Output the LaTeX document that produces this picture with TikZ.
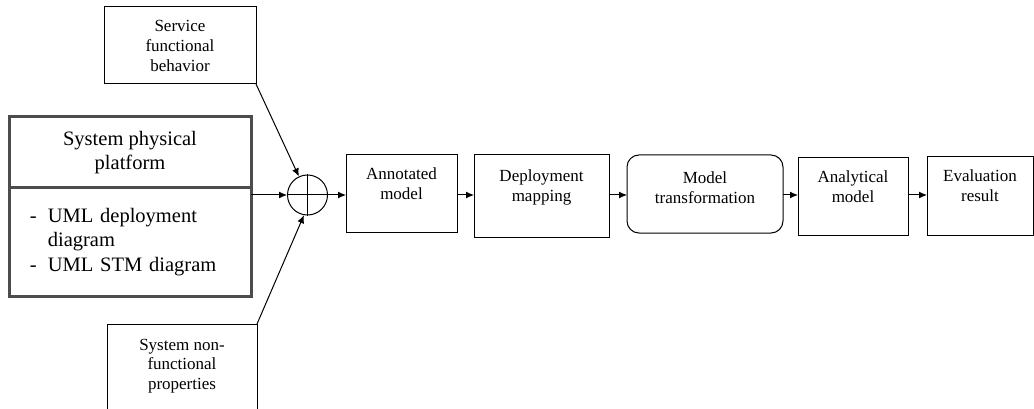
\documentclass[tikz,border=0pt]{standalone}
\usepackage{fontspec}
\setmainfont{Liberation Serif}
\usetikzlibrary{arrows.meta,positioning}

\tikzset{
  blk/.style={draw, line width=1pt, align=center, inner sep=0pt, outer sep=0pt, font=\fontsize{17}{20}\selectfont},
  platbox/.style={draw=black!70, line width=3pt, minimum width=242, inner sep=0pt, outer sep=0pt},
  arr/.style={-{Latex[length=8pt,width=7pt]}, line width=1pt},
}

\begin{document}
\begin{tikzpicture}[x=1pt, y=-1pt]
\useasboundingbox (0,0) rectangle (1034,409);
% inputs
\node[blk, minimum width=152, minimum height=77] (svc) at (180,45.5) {Service\\functional\\behavior};
\node[platbox, minimum height=71.5, align=center, font=\fontsize{20.5}{24}\selectfont] (platTop) at (130,152.25) {System physical\\platform};
\node[platbox, minimum height=108, text width=200, inner xsep=21, align=left, font=\fontsize{20.5}{24.5}\selectfont, below=0pt of platTop] (platBot)
  {\begin{tabular}{@{}l@{\hspace{11pt}}l@{}}-&UML deployment\\&diagram\\-&UML STM diagram\end{tabular}};
\node[blk, minimum width=150, minimum height=120, anchor=north] (nfp) at (182,324) {};
\node[align=center, inner sep=0pt, font=\fontsize{17}{19.5}\selectfont, below=15pt of nfp.north] (nfpText) {System non-\\functional\\properties};
% summing junction
\node[draw, circle, line width=1pt, minimum size=40, inner sep=0pt] (sum) at (307.5,195) {};
\draw[line width=1pt] (sum.north) -- (sum.south) (sum.west) -- (sum.east);
% chain
\node[blk, minimum width=111, minimum height=77] (ann) at (401.5,193.5) {Annotated\\model\\~};
\node[blk, minimum width=135, minimum height=82] (dep) at (541.5,196) {Deployment\\mapping\\~};
\node[blk, minimum width=156, minimum height=78, rounded corners=12pt] (trf) at (705,194) {Model\\transformation\\[-8pt]~};
\node[blk, minimum width=110, minimum height=77] (ana) at (853,196.5) {Analytical\\model\\~};
\node[blk, minimum width=106, minimum height=78] (eva) at (980,196) {Evaluation\\result\\~};
% connectors
\draw[arr] (sum -| platBot.east) -- (sum);
\draw[arr] (svc.south east) -- (sum);
\draw[arr] (nfp.north east) -- (sum.-100);
\draw[arr] (sum) -- (sum -| ann.west);
\draw[arr] (ann.east |- sum) -- (dep.west |- sum);
\draw[arr] (dep.east |- sum) -- (trf.west |- sum);
\draw[arr] (trf.east |- sum) -- (ana.west |- sum);
\draw[arr] (ana.east |- sum) -- (eva.west |- sum);
\end{tikzpicture}
\end{document}
